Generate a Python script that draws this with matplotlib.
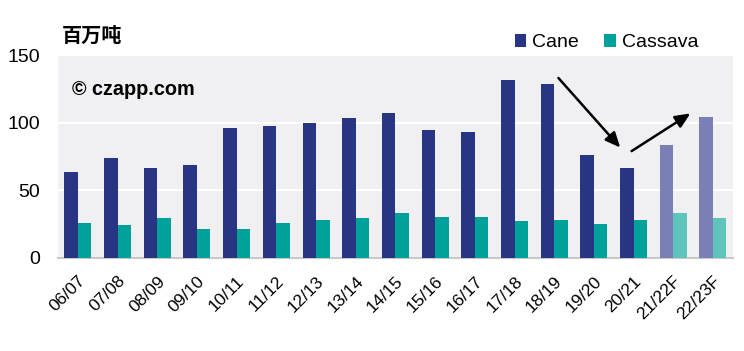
import numpy as np
import matplotlib.pyplot as plt

plt.rcParams['font.family'] = ['Liberation Sans', 'Noto Sans CJK SC', 'DejaVu Sans']

seasons = ['06/07', '07/08', '08/09', '09/10', '10/11', '11/12', '12/13', '13/14',
           '14/15', '15/16', '16/17', '17/18', '18/19', '19/20', '20/21', '21/22F', '22/23F']
cane = [63.5, 73.8, 66.4, 68.6, 95.8, 97.8, 100, 103.7,
        106.9, 94.4, 92.9, 131.9, 128.9, 76, 66.4, 83.3, 104.6]
cassava = [26, 24.5, 29.6, 21.6, 21.6, 26, 28.2, 29.6,
           33.3, 30.4, 30.4, 27.5, 28.2, 25.2, 28.2, 33.3, 29.6]
n_forecast = 2

# trend arrows (data coords): start -> end
arrow_down = [(12.06, 134.6), (13.71, 80.1)]
arrow_up = [(13.89, 77.9), (15.49, 108.0)]

cane_col = '#283583'
cass_col = '#00A19A'
cane_fc = '#7A80B5'
cass_fc = '#5EC4BC'

fig = plt.figure(figsize=(7.44, 3.51), dpi=100)
ax = fig.add_axes([0.078, 0.265, 0.907, 0.578])
ax.set_facecolor('#F0F0F2')

x = np.arange(len(seasons))
w = 0.34
n = len(seasons)
cane_colors = [cane_col] * (n - n_forecast) + [cane_fc] * n_forecast
cass_colors = [cass_col] * (n - n_forecast) + [cass_fc] * n_forecast
ax.bar(x - w / 2, cane, w, color=cane_colors, label='Cane', zorder=3)
ax.bar(x + w / 2, cassava, w, color=cass_colors, label='Cassava', zorder=3)

ax.set_xlim(-0.5, n - 0.5)
ax.set_ylim(0, 150)
ax.set_yticks([0, 50, 100, 150])
ax.yaxis.grid(True, color='white', linewidth=1.5, zorder=1)
ax.set_axisbelow(True)
for s in ['top', 'right', 'left']:
    ax.spines[s].set_visible(False)
ax.spines['bottom'].set_color('#C8C8C8')
ax.spines['bottom'].set_linewidth(1.5)
ax.tick_params(axis='both', length=0)
ax.tick_params(axis='y', labelsize=14, pad=13)
ax.set_xticks(x)
ax.set_xticklabels(seasons, rotation=45, ha='right', rotation_mode='anchor', fontsize=12.5)
ax.tick_params(axis='x', pad=11)

for a in (arrow_down, arrow_up):
    ax.annotate('', xy=a[1], xytext=a[0],
                arrowprops=dict(arrowstyle='-|>,head_length=0.9,head_width=0.4',
                                color='black', lw=1.8), zorder=5)

fig.text(0.083, 0.88, '百万吨', fontsize=14.5, fontweight='bold',
         family=['Noto Sans CJK SC', 'DejaVu Sans'])
ax.text(0.02, 0.83, '© czapp.com', transform=ax.transAxes, fontsize=14.3,
        fontweight='bold', va='center')

ax.legend(loc='lower right', bbox_to_anchor=(0.96, 0.98), ncol=2, frameon=False,
          fontsize=14, handlelength=0.6, handleheight=0.6, handletextpad=0.3,
          columnspacing=1.3, borderaxespad=0)

fig.savefig('out.png', dpi=100)
